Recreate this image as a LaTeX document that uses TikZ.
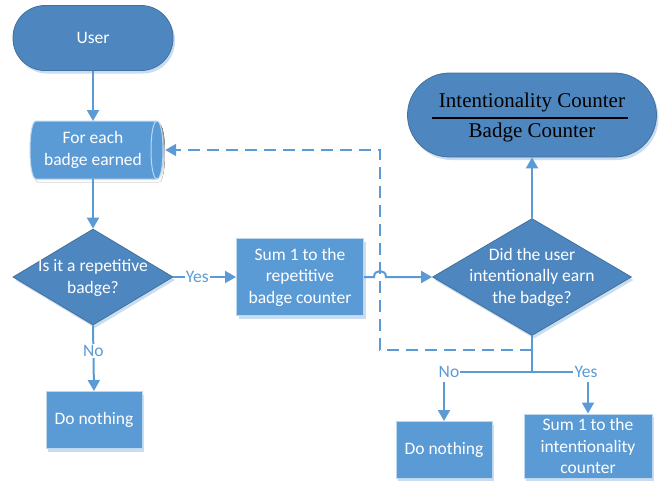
\documentclass[tikz,border=0pt]{standalone}
\usepackage{fontspec}
\setmainfont{Carlito}
\newfontfamily\serifx{Liberation Serif}
\usetikzlibrary{shapes.geometric,arrows.meta,shadows,calc}
\definecolor{darkfill}{HTML}{4E86BF}
\definecolor{darkedge}{HTML}{41719C}
\definecolor{lightfill}{HTML}{5B9BD5}
\definecolor{lightedge}{HTML}{BDD7EE}
\definecolor{shade}{HTML}{C9DCF0}
\definecolor{linec}{HTML}{5B9BD5}
\begin{document}
\begin{tikzpicture}[x=1pt,y=-1pt,
  txt/.style={text=white,font=\fontsize{17.5}{21.5}\selectfont,align=center,inner sep=0},
  lbl/.style={text=linec,font=\fontsize{17.5}{21.5}\selectfont,fill=white,inner sep=1pt},
  sh/.style={drop shadow={shadow xshift=2pt,shadow yshift=-3pt,fill=shade,opacity=1}},
  term/.style={draw=darkedge,line width=0.8pt,fill=darkfill,sh},
  dia/.style={diamond,draw=darkedge,line width=0.8pt,fill=darkfill,inner sep=0,sh},
  boxx/.style={rectangle,draw=lightedge,line width=1pt,fill=lightfill,inner sep=0,sh},
  conn/.style={draw=linec,line width=2pt,-{Triangle[width=12pt,length=11pt]}},
  plain/.style={draw=linec,line width=2pt},
  dash2/.style={draw=linec,line width=2pt,dash pattern=on 12pt off 7pt,-{Triangle[width=12pt,length=11pt]}}]
\useasboundingbox (0,0) rectangle (660,480);

% terminators
\node[term,rounded corners=32pt,minimum width=160,minimum height=65,inner sep=0] (user) at (93,38) {};
\node[txt] at (user) {User};
\node[term,rounded corners=42pt,minimum width=249,minimum height=84,inner sep=0] (t2) at (532,115) {};
\node[font=\serifx\fontsize{21}{24}\selectfont,text=black,inner sep=0] (ic) at (532,102) {Intentionality Counter};
\node[font=\serifx\fontsize{21}{24}\selectfont,text=black,inner sep=0] (bc) at (532,132) {Badge Counter};
\draw[black,line width=1.3pt] (432,118) -- (628,118);

% loop shape (horizontal cylinder)
\fill[shade] (38,124) -- (159,124) .. controls (167,124) and (167,182) .. (159,182) -- (38,182) .. controls (30,182) and (30,124) .. (38,124) -- cycle;
\filldraw[fill=lightfill,draw=lightedge,line width=1pt] (36,121) -- (157,121) .. controls (165,121) and (165,179) .. (157,179) -- (36,179) .. controls (28,179) and (28,121) .. (36,121) -- cycle;
\draw[lightedge,line width=1pt] (157,121) .. controls (149,121) and (149,179) .. (157,179);
\node[txt,minimum width=126,minimum height=58] (loop) at (93,150) {For each\\badge earned};

% diamonds
\node[dia,minimum width=160,minimum height=96] (d1) at (93,277) {};
\node[txt] at (93,278) {Is it a repetitive\\badge?};
\node[dia,minimum width=199,minimum height=117] (d2) at (532,277) {};
\node[txt] at (532,277) {Did the user\\intentionally earn\\the badge?};

% boxes
\node[boxx,txt,minimum width=127,minimum height=77] (b1) at (300,277) {Sum 1 to the\\repetitive\\badge counter};
\node[boxx,txt,minimum width=96,minimum height=57] (dn1) at (94,420) {Do nothing};
\node[boxx,txt,minimum width=96,minimum height=57] (dn2) at (444,450) {Do nothing};
\node[boxx,txt,minimum width=128,minimum height=64] (s2) at (588,446) {Sum 1 to the\\intentionality\\counter};

% connectors
\draw[conn] (user.south) -- (user.south |- 0,121);
\draw[conn] (loop.south -| d1.north) -- (d1.north);
\draw[conn] (d1.east) -- node[lbl,pos=0.38] {Yes} (b1.west);
\draw[conn] (d1.south) -- node[lbl,pos=0.39] {No} (dn1.north);
\draw[conn] (b1.east) -- ++(10,0) .. controls +(0,-8) and +(0,-8) .. ++(12,0) -- (d2.west);
\draw[conn] (d2.north) -- (t2.south);

% split below second decision
\coordinate (split) at (d2.south |- 0,372);
\draw[plain] (d2.south) -- (split);
\node[lbl] (nolab) at (449,372) {No};
\node[lbl] (yeslab) at (586,372) {Yes};
\draw[plain] (nolab.east) -- (yeslab.west);
\node[lbl] at (449,372) {No};
\node[lbl] at (586,372) {Yes};
\draw[conn] (nolab.south -| dn2.north) ++(0,3) -- (dn2.north);
\draw[conn] (yeslab.south -| s2.north) ++(0,3) -- (s2.north);

% dashed loop back
\coordinate (dstart) at (d2.south |- 0,350);
\draw[dash2] (dstart) -- (380,350) -- (380,150) -- ($(loop.east |- 0,150)+(9,0)$);
\end{tikzpicture}
\end{document}
